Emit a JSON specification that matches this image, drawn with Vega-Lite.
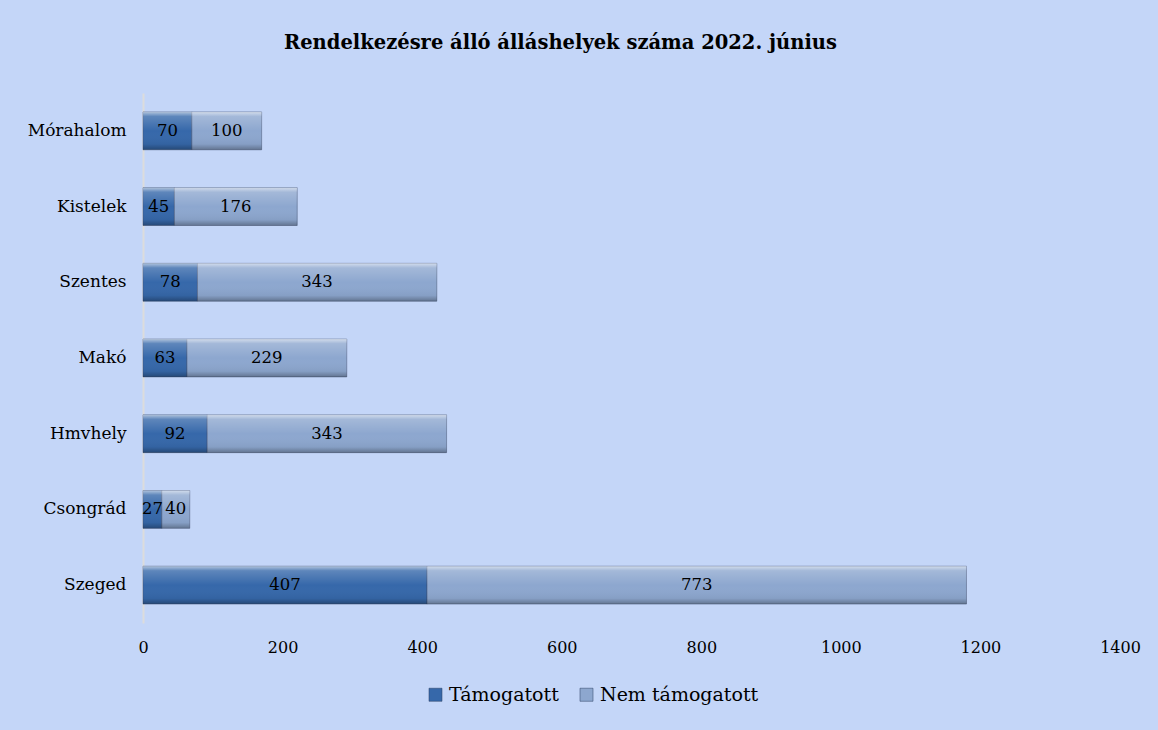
{
  "$schema": "https://vega.github.io/schema/vega-lite/v6.json",
  "width": 977,
  "height": 530,
  "autosize": {"type": "none"},
  "padding": {"left": 143, "top": 93, "right": 38, "bottom": 107},
  "background": "#c4d6f8",
  "title": {
    "text": "Rendelkezésre álló álláshelyek száma 2022. június",
    "font": "DejaVu Serif",
    "fontSize": 19.5,
    "fontWeight": "bold",
    "color": "#000000",
    "anchor": "middle",
    "dx": -71,
    "offset": 40
  },
  "config": {
    "view": {"stroke": null},
    "font": "DejaVu Serif"
  },
  "data": {
    "values": [
      {"city": "Mórahalom", "series": "Támogatott", "order": 1, "value": 70},
      {"city": "Mórahalom", "series": "Nem támogatott", "order": 2, "value": 100},
      {"city": "Kistelek", "series": "Támogatott", "order": 1, "value": 45},
      {"city": "Kistelek", "series": "Nem támogatott", "order": 2, "value": 176},
      {"city": "Szentes", "series": "Támogatott", "order": 1, "value": 78},
      {"city": "Szentes", "series": "Nem támogatott", "order": 2, "value": 343},
      {"city": "Makó", "series": "Támogatott", "order": 1, "value": 63},
      {"city": "Makó", "series": "Nem támogatott", "order": 2, "value": 229},
      {"city": "Hmvhely", "series": "Támogatott", "order": 1, "value": 92},
      {"city": "Hmvhely", "series": "Nem támogatott", "order": 2, "value": 343},
      {"city": "Csongrád", "series": "Támogatott", "order": 1, "value": 27},
      {"city": "Csongrád", "series": "Nem támogatott", "order": 2, "value": 40},
      {"city": "Szeged", "series": "Támogatott", "order": 1, "value": 407},
      {"city": "Szeged", "series": "Nem támogatott", "order": 2, "value": 773}
    ]
  },
  "transform": [
    {"stack": "value", "groupby": ["city"], "sort": [{"field": "order", "order": "ascending"}], "as": ["v0", "v1"]},
    {"calculate": "(datum.v0 + datum.v1) / 2", "as": "mid"}
  ],
  "encoding": {
    "y": {
      "field": "city",
      "type": "nominal",
      "sort": ["Mórahalom", "Kistelek", "Szentes", "Makó", "Hmvhely", "Csongrád", "Szeged"],
      "scale": {"paddingInner": 0.5, "paddingOuter": 0.25},
      "axis": {
        "title": null,
        "ticks": false,
        "domain": true,
        "domainColor": "#dcdcdc",
        "domainWidth": 2,
        "labelFont": "DejaVu Serif",
        "labelFontSize": 17,
        "labelColor": "#000000",
        "labelPadding": 17
      }
    }
  },
  "layer": [
    {
      "mark": {"type": "bar", "stroke": "#3f4f6e", "strokeWidth": 0.8, "strokeOpacity": 0.6},
      "encoding": {
        "x": {
          "field": "v0",
          "type": "quantitative",
          "scale": {"domain": [0, 1400], "nice": false},
          "axis": {
            "title": null,
            "values": [0, 200, 400, 600, 800, 1000, 1200, 1400],
            "format": "d",
            "grid": false,
            "ticks": false,
            "domain": false,
            "labelFont": "DejaVu Serif",
            "labelFontSize": 16,
            "labelColor": "#000000",
            "labelPadding": 16,
            "labelFlush": false
          }
        },
        "x2": {"field": "v1"},
        "color": {
          "field": "series",
          "type": "nominal",
          "sort": ["Támogatott", "Nem támogatott"],
          "scale": {"domain": ["Támogatott", "Nem támogatott"], "range": ["#3668aa", "#8da7cf"]},
          "legend": {
            "title": null,
            "orient": "none",
            "direction": "horizontal",
            "legendX": 283,
            "legendY": 592,
            "symbolType": "square",
            "symbolSize": 170,
            "symbolStrokeColor": "#2a3f60",
            "symbolStrokeWidth": 0.5,
            "labelFont": "DejaVu Serif",
            "labelFontSize": 19,
            "labelColor": "#000000",
            "labelOffset": 4,
            "columnPadding": 18
          }
        }
      }
    },
    {
      "mark": {
        "type": "bar",
        "fill": {
          "gradient": "linear",
          "x1": 0, "y1": 0, "x2": 0, "y2": 1,
          "stops": [
            {"offset": 0, "color": "rgba(255,255,255,0.6)"},
            {"offset": 0.12, "color": "rgba(255,255,255,0.2)"},
            {"offset": 0.5, "color": "rgba(255,255,255,0)"},
            {"offset": 0.85, "color": "rgba(0,0,0,0.05)"},
            {"offset": 1, "color": "rgba(0,0,0,0.3)"}
          ]
        }
      },
      "encoding": {
        "x": {"field": "v0", "type": "quantitative"},
        "x2": {"field": "v1"}
      }
    },
    {
      "mark": {"type": "text", "font": "DejaVu Serif", "fontSize": 16.5, "color": "#000000", "align": "center", "baseline": "middle"},
      "encoding": {
        "x": {"field": "mid", "type": "quantitative"},
        "text": {"field": "value", "type": "quantitative"}
      }
    }
  ]
}
